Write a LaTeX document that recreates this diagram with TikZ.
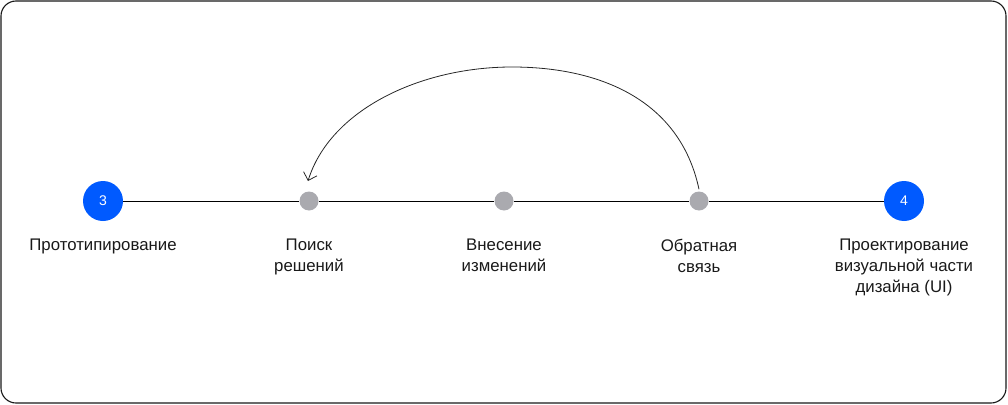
\documentclass[tikz,border=0pt]{standalone}
\usepackage{fontspec}
\setmainfont{Liberation Sans}
\usetikzlibrary{arrows.meta}
\begin{document}
\begin{tikzpicture}[x=1pt,y=-1pt,
  frame/.style={draw=black!90,line width=1.1pt,rounded corners=15pt},
  bigdot/.style={circle,fill={rgb,255:red,0;green,90;blue,255},minimum size=40pt,inner sep=0pt,text=white,font=\fontsize{14}{16}\selectfont},
  smalldot/.style={circle,fill={rgb,255:red,170;green,170;blue,175},minimum size=19pt,inner sep=0pt},
  lbl/.style={align=center,anchor=north,font=\fontsize{16.8}{21}\selectfont,text=black!90,inner sep=0pt},
  conn/.style={draw=black,line width=0.9pt},
  loopback/.style={draw=black!85,line width=0.8pt,-{Straight Barb[length=7pt,width=14pt]}}]
\useasboundingbox (0,0) rectangle (1008,404);
\draw[frame] (1,1) rectangle (1006,403);
\node[bigdot] (n3) at (103,201) {3};
\node[smalldot] (s1) at (309,201) {};
\node[smalldot] (s2) at (504,201) {};
\node[smalldot] (s3) at (699,201) {};
\node[bigdot] (n4) at (904,201) {4};
\draw[conn] (n3) -- (s1);
\draw[conn] (s1) -- (s2);
\draw[conn] (s2) -- (s3);
\draw[conn] (s3) -- (n4);
\node[lbl] (l3) at (103,239) {Прототипирование};
\node[lbl] (l1) at (309,239) {Поиск\\решений};
\node[lbl] (l2) at (504,239) {Внесение\\изменений};
\node[lbl] (l4) at (699,239) {Обратная\\связь};
\node[lbl] (l5) at (904,239) {Проектирование\\визуальной части\\дизайна (UI)};
\draw[loopback] (s3.north) ++(0,-2) .. controls (680,100) and (600,67) .. (512,67)
  .. controls (420,67) and (330,110) .. (308,181);
\end{tikzpicture}
\end{document}
